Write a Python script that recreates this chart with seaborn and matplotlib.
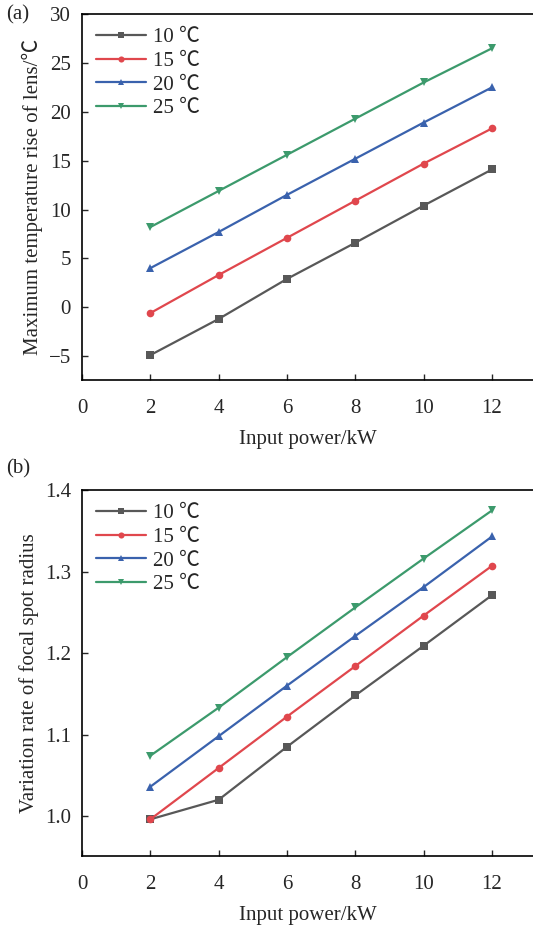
import pandas as pd
import matplotlib.pyplot as plt
import seaborn as sns

# Values
power = [2, 4, 6, 8, 10, 12]
temps = ["10 ℃", "15 ℃", "20 ℃", "25 ℃"]

rise_10 = [-4.9, -1.2, 2.9, 6.6, 10.4, 14.1]
rise_15 = [-0.6, 3.3, 7.1, 10.9, 14.7, 18.3]
rise_20 = [4.0, 7.7, 11.5, 15.2, 18.9, 22.5]
rise_25 = [8.2, 11.9, 15.6, 19.3, 23.0, 26.5]

spot_10 = [0.996, 1.020, 1.085, 1.148, 1.209, 1.271]
spot_15 = [0.996, 1.059, 1.122, 1.184, 1.246, 1.307]
spot_20 = [1.036, 1.098, 1.160, 1.221, 1.281, 1.343]
spot_25 = [1.074, 1.133, 1.195, 1.256, 1.316, 1.375]

colors = ["#585858", "#e0474d", "#3a62ad", "#3c9a6c"]
markers = ["s", "o", "^", "v"]


def long_df(series):
    rows = []
    for t, vals in zip(temps, series):
        for p, v in zip(power, vals):
            rows.append({"power": p, "value": v, "temp": t})
    return pd.DataFrame(rows)


df_a = long_df([rise_10, rise_15, rise_20, rise_25])
df_b = long_df([spot_10, spot_15, spot_20, spot_25])

sns.set_style("ticks")
plt.rcParams["font.family"] = ["Liberation Serif", "Noto Sans CJK SC", "DejaVu Sans"]
fs = 15

fig = plt.figure(figsize=(5.33, 9.26), dpi=100)
ax_a = fig.add_axes([0.1538, 0.5896, 0.8462, 0.3952])
ax_b = fig.add_axes([0.1538, 0.0756, 0.8462, 0.3952])


def draw(ax, df, ylabel, ylim, yticks, yfmt):
    sns.lineplot(data=df, x="power", y="value", hue="temp", style="temp",
                 palette=dict(zip(temps, colors)),
                 markers=dict(zip(temps, markers)), dashes=False,
                 linewidth=1.6, markersize=5.5, markeredgewidth=0, ax=ax)
    ax.set_xlim(0, 13.2)
    ax.set_ylim(*ylim)
    ax.set_xticks([0, 2, 4, 6, 8, 10, 12])
    ax.set_yticks(yticks)
    ax.set_yticklabels([yfmt(v) for v in yticks])
    ax.tick_params(direction="in", length=4, width=1, labelsize=fs)
    ax.tick_params(axis="x", pad=14)
    ax.tick_params(axis="y", pad=8)
    for side in ["left", "bottom", "top"]:
        ax.spines[side].set_linewidth(1.2)
        ax.spines[side].set_color("black")
    ax.spines["right"].set_visible(False)
    ax.set_xlabel("Input power/kW", fontsize=fs, labelpad=8)
    ax.set_ylabel(ylabel, fontsize=fs, labelpad=4)
    ax.legend(loc="upper left", frameon=False, fontsize=fs, handlelength=2.4,
              handletextpad=0.35, labelspacing=0.2, borderaxespad=0.25,
              bbox_to_anchor=(0.0, 1.0), markerscale=0.8)


draw(ax_a, df_a, "Maximum temperature rise of lens/℃", (-7.45, 30),
     [-5, 0, 5, 10, 15, 20, 25, 30],
     lambda v: "\u2212" + str(-v) if v < 0 else str(v))
draw(ax_b, df_b, "Variation rate of focal spot radius", (0.951, 1.4),
     [1.0, 1.1, 1.2, 1.3, 1.4], lambda v: f"{v:.1f}")

fig.text(0.012, 0.984, "(a)", fontsize=fs, va="center", ha="left")
fig.text(0.012, 0.4935, "(b)", fontsize=fs, va="center", ha="left")

fig.savefig("out.png", dpi=100)
